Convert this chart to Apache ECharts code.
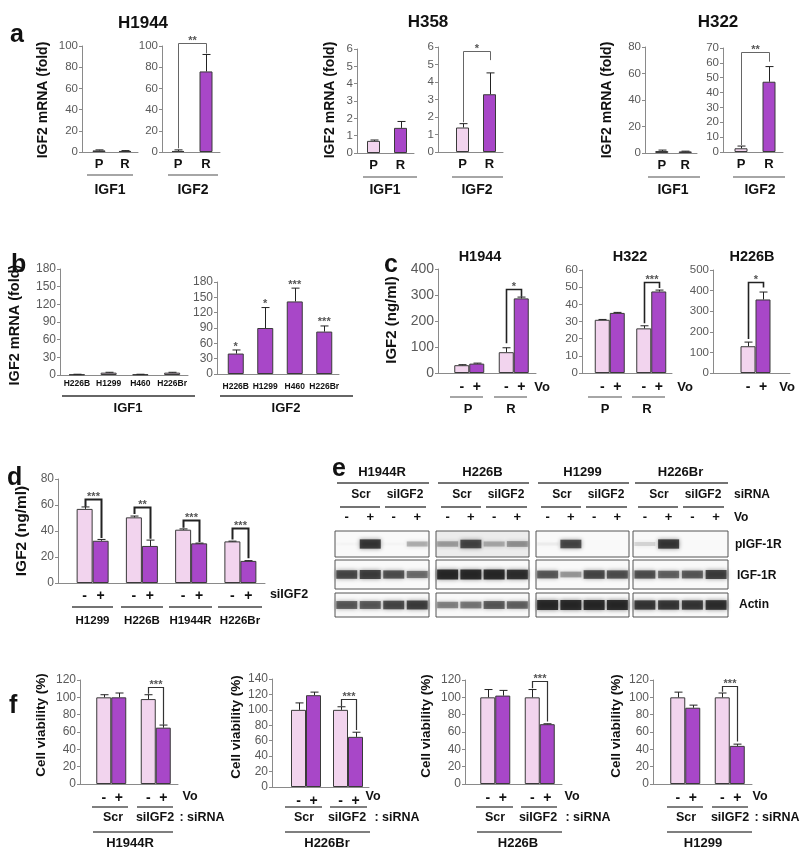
<!DOCTYPE html>
<html><head><meta charset="utf-8">
<script src="https://cdn.jsdelivr.net/npm/echarts@6/dist/echarts.min.js"></script>
<style>html,body{margin:0;padding:0;background:#fff}#c{width:800px;height:855px}</style>
</head><body><div id="c"></div>
<script>
// ---------------- DATA ----------------
// panel a : IGF mRNA (fold), P = parental, R = resistant
const aGroups = ['P', 'R'];
const aH1944IGF1 = [1.5, 1.0], aH1944IGF1Err = [2.0, 1.3];
const aH1944IGF2 = [1.0, 76], aH1944IGF2Err = [2.0, 92];
const aH358IGF1 = [0.7, 1.45], aH358IGF1Err = [0.75, 1.82];
const aH358IGF2 = [1.4, 3.3], aH358IGF2Err = [1.62, 4.52];
const aH322IGF1 = [1.5, 1.2], aH322IGF1Err = [2.2, 1.4];
const aH322IGF2 = [2.5, 47.3], aH322IGF2Err = [4.0, 57.5];
const aSigLabels = ['**', '*', '**'];
const aSigLeft = [3.5, 1.7, 4.7], aSigRight = [93, 5.25, 60.8], aSigTop = [103, 5.77, 67.5];

// panel b
const bLines = ['H226B', 'H1299', 'H460', 'H226Br'];
const bIGF1 = [1, 4, 1, 4], bIGF1Err = [1.3, 4.6, 1.3, 4.6];
const bIGF2 = [40, 90, 142, 83], bIGF2Err = [47, 130, 168, 94];
const bStars = ['*', '*', '***', '***'];

// panel c : IGF2 (ng/ml), Vo - / +
const cGroups = ['P', 'R'];
const cH1944Ctrl = [30, 80], cH1944CtrlErr = [32, 97];
const cH1944Vo = [36, 287], cH1944VoErr = [38, 292];
const cH322Ctrl = [31, 26], cH322CtrlErr = [31.2, 27.5];
const cH322Vo = [35, 47.5], cH322VoErr = [35.3, 48.3];
const cH226BCtrl = [130], cH226BCtrlErr = [150];
const cH226BVo = [357], cH226BVoErr = [393];
const cSigLabels = ['*', '***', '*'];
const cSigLeft = [114, 29, 165], cSigRight = [293, 49.5, 415], cSigTop = [322, 53.2, 443];

// panel d : IGF2 (ng/ml), siIGF2 - / +
const dLines = ['H1299', 'H226B', 'H1944R', 'H226Br'];
const dCtrl = [57, 50.5, 41, 32], dCtrlErr = [58.5, 51.5, 41.6, 32.2];
const dSi = [32.5, 28.5, 30.5, 17], dSiErr = [33.5, 33, 30.7, 17.2];
const dStars = ['***', '**', '***', '***'];
const dSigLeft = [58.7, 53, 42.5, 33.5], dSigRight = [34.6, 34, 31.5, 19], dSigTop = [65, 58.5, 48.5, 42];

// panel e : western blot band intensities (0..1), lanes Scr-,Scr+,si-,si+
const eLines = ['H1944R', 'H226B', 'H1299', 'H226Br'];
const eLanes = ['-', '+', '-', '+'];
const eRows = ['pIGF-1R', 'IGF-1R', 'Actin'];
const ePIGF1R = [[0.02, 0.9, 0.02, 0.3], [0.35, 0.8, 0.3, 0.4], [0.05, 0.8, 0, 0], [0.15, 0.9, 0, 0]];
const eIGF1R = [[0.8, 0.85, 0.75, 0.6], [1, 1, 1, 0.95], [0.7, 0.4, 0.8, 0.75], [0.75, 0.65, 0.7, 0.85]];
const eActin = [[0.7, 0.7, 0.8, 0.85], [0.5, 0.55, 0.7, 0.65], [1, 1, 1, 1], [0.9, 0.9, 0.9, 0.95]];

// panel f : Cell viability (%)
const fGroups = ['Scr', 'siIGF2'];
const fLines = ['H1944R', 'H226Br', 'H226B', 'H1299'];
const fH1944RCtrl = [100, 98], fH1944RCtrlErr = [103, 103], fH1944RVo = [100, 65], fH1944RVoErr = [105, 68];
const fH226BrCtrl = [100, 100], fH226BrCtrlErr = [109, 104], fH226BrVo = [119, 65], fH226BrVoErr = [123, 71];
const fH226BCtrl = [100, 100], fH226BCtrlErr = [109, 109], fH226BVo = [102, 69], fH226BVoErr = [108, 69.5];
const fH1299Ctrl = [100, 100], fH1299CtrlErr = [106, 105], fH1299Vo = [88, 44], fH1299VoErr = [91, 46];
const fSigLabels = ['***', '***', '***', '***'];
const fSigLeft = [104, 105, 110.5, 106.5], fSigRight = [68.5, 74, 72, 49], fSigTop = [111.6, 114, 118.5, 113];

// ---------------- STYLE / BUILD ----------------
const LIGHT = '#f2d4ee', DARK = '#a847c8', EDGE = '#3a3a3a', AXIS = '#8a8a8a', TICKC = '#5a5a5a';
const FONT = '"Liberation Sans", Arial, Helvetica, sans-serif';

const option = { animation: false, backgroundColor: '#fff', grid: [], xAxis: [], yAxis: [], series: [], graphic: [] };

function gLine(x1, y1, x2, y2, color, w) {
  option.graphic.push({ type: 'line', silent: true, shape: { x1, y1, x2, y2 }, style: { stroke: color, lineWidth: w } });
}
function gText(x, y, s, size, o) {
  o = o || {};
  option.graphic.push({ type: 'text', silent: true, x, y, rotation: o.rot || 0,
    style: { text: s, fill: o.color || '#111', fontSize: size, fontWeight: o.weight || 'bold',
      fontFamily: FONT, align: o.align || 'center', verticalAlign: o.va || 'middle' } });
}

function addBarChart(c) {
  const gi = option.grid.length;
  option.grid.push({ left: c.gl, top: c.top, width: c.gr - c.gl, height: c.bottom - c.top, containLabel: false, outerBoundsMode: 'none' });
  option.xAxis.push({ type: 'category', gridIndex: gi, data: c.cats, boundaryGap: true,
    axisLine: { show: true, onZero: false, lineStyle: { color: AXIS, width: 1 } },
    axisTick: { show: false }, splitLine: { show: false },
    axisLabel: Object.assign({ show: true, interval: 0, color: '#111', fontWeight: 'bold', fontFamily: FONT, hideOverlap: false }, c.xLabel) });
  option.yAxis.push({ type: 'value', gridIndex: gi, min: 0, max: c.max, interval: c.interval, offset: c.gl - c.axisX,
    axisLine: { show: true, lineStyle: { color: AXIS, width: 1 } },
    axisTick: { show: true, inside: false, length: 3, lineStyle: { color: AXIS } },
    splitLine: { show: false },
    axisLabel: { color: TICKC, fontSize: c.tickSize, fontFamily: FONT, margin: 4, showMaxLabel: true, showMinLabel: true } });
  if (c.gl - c.axisX > 0.5) gLine(c.axisX, c.bottom + 0.5, c.gl, c.bottom + 0.5, AXIS, 1);
  const n = c.series.length;
  const errData = [], errLabels = [];
  c.series.forEach((s, k) => {
    const off = n === 2 ? (k === 0 ? -c.bw / 2 : c.bw / 2) : 0;
    option.series.push({ type: 'bar', xAxisIndex: gi, yAxisIndex: gi, barWidth: c.bw, barGap: '0%', silent: true,
      data: s.data.map((v, i) => ({ value: v, itemStyle: { color: s.colors ? s.colors[i] : s.color } })),
      itemStyle: { borderColor: EDGE, borderWidth: 1 } });
    if (s.err) s.data.forEach((v, i) => { errData.push([i, v, s.err[i], off]); errLabels.push(s.stars ? s.stars[i] : ''); });
  });
  if (errData.length) {
    option.series.push({ type: 'custom', xAxisIndex: gi, yAxisIndex: gi, clip: false, silent: true, z: 4, data: errData,
      renderItem: (p, api) => {
        const cat = api.value(0), v = api.value(1), e = api.value(2), off = api.value(3);
        const a = api.coord([cat, v]), b = api.coord([cat, e]);
        const x = Math.round(a[0] + off) + 0.5;
        const ch = [];
        if (e > v) {
          ch.push({ type: 'line', shape: { x1: x, y1: a[1], x2: x, y2: b[1] }, style: { stroke: '#222', lineWidth: 1 } });
          ch.push({ type: 'line', shape: { x1: x - 4, y1: b[1], x2: x + 4, y2: b[1] }, style: { stroke: '#222', lineWidth: 1 } });
        }
        const lab = errLabels[p.dataIndex];
        if (lab) ch.push({ type: 'text', x: a[0] + off, y: b[1] + 2, style: { text: lab, fill: '#555', fontSize: 11, fontWeight: 'bold', fontFamily: FONT, align: 'center', verticalAlign: 'bottom' } });
        return { type: 'group', children: ch };
      } });
  }
  if (c.brackets) {
    const bs = c.brackets;
    option.series.push({ type: 'custom', xAxisIndex: gi, yAxisIndex: gi, clip: false, silent: true, z: 5,
      data: bs.map(b => [b.c1, b.yTop, b.c2, b.yL, b.yR, b.o1, b.o2]),
      renderItem: (p, api) => {
        const c1 = api.value(0), top = api.value(1), c2 = api.value(2), yL = api.value(3), yR = api.value(4), o1 = api.value(5), o2 = api.value(6);
        const pL = api.coord([c1, yL]), pR = api.coord([c2, yR]), pT = api.coord([c1, top]);
        const xl = Math.round(pL[0] + o1) + 0.5, xr = Math.round(pR[0] + o2) + 0.5, yt = Math.round(pT[1]) + 0.5;
        return { type: 'group', children: [
          { type: 'polyline', shape: { points: [[xl, pL[1]], [xl, yt], [xr, yt], [xr, pR[1]]] }, style: { stroke: c.bStroke, lineWidth: c.bWidth, fill: 'none' } },
          { type: 'text', x: (xl + xr) / 2, y: yt + 3, style: { text: bs[p.dataIndex].label, fill: '#555', fontSize: 11, fontWeight: 'bold', fontFamily: FONT, align: 'center', verticalAlign: 'bottom' } }
        ] };
      } });
  }
  return gi;
}

// ---- panel a ----
const aLab = { fontSize: 13, margin: 6 };
function aPair(axL, glL, grL, topL, botL, axR, glR, grR, topR, botR, max1, int1, max2, int2, d1, e1, d2, e2, si) {
  addBarChart({ axisX: axL, gl: glL, gr: grL, top: topL, bottom: botL, max: max1, interval: int1, tickSize: 11.5,
    cats: aGroups, xLabel: aLab, bw: 13, series: [{ data: d1, err: e1, colors: [LIGHT, DARK] }] });
  addBarChart({ axisX: axR, gl: glR, gr: grR, top: topR, bottom: botR, max: max2, interval: int2, tickSize: 11.5,
    cats: aGroups, xLabel: aLab, bw: 13, series: [{ data: d2, err: e2, colors: [LIGHT, DARK] }],
    brackets: [{ c1: 0, o1: 0, c2: 1, o2: 0, yL: aSigLeft[si], yR: aSigRight[si], yTop: aSigTop[si], label: aSigLabels[si] }],
    bStroke: '#666', bWidth: 1 });
}
aPair(82, 86, 138, 46, 152, 162, 164, 220, 46, 152, 100, 20, 100, 20, aH1944IGF1, aH1944IGF1Err, aH1944IGF2, aH1944IGF2Err, 0);
aPair(357, 360, 414, 49, 153, 438, 449, 503, 47, 152, 6, 1, 6, 1, aH358IGF1, aH358IGF1Err, aH358IGF2, aH358IGF2Err, 1);
aPair(645, 650, 697, 47, 153, 723, 727, 783, 48, 152, 80, 20, 70, 10, aH322IGF1, aH322IGF1Err, aH322IGF2, aH322IGF2Err, 2);

// ---- panel b ----
const bLab = { fontSize: 8.5, margin: 4 };
addBarChart({ axisX: 60, gl: 61, gr: 188, top: 269, bottom: 375, max: 180, interval: 30, tickSize: 12,
  cats: bLines, xLabel: bLab, bw: 16, series: [{ data: bIGF1, err: bIGF1Err, color: LIGHT }] });
addBarChart({ axisX: 217, gl: 221, gr: 339, top: 282, bottom: 374, max: 180, interval: 30, tickSize: 12,
  cats: bLines, xLabel: Object.assign({}, bLab, { margin: 8 }), bw: 16, series: [{ data: bIGF2, err: bIGF2Err, color: DARK, stars: bStars }] });

// ---- panel c ----
function pmLabel(bw, size, margin) {
  return { margin, formatter: () => '{a|-}{a|+}', rich: { a: { width: bw, align: 'center', fontWeight: 'bold', fontSize: size, fontFamily: FONT, color: '#111' } } };
}
function cChart(axisX, gl, gr, top, bottom, max, interval, tick, cats, ctrl, ctrlE, vo, voE, si) {
  addBarChart({ axisX, gl, gr, top, bottom, max, interval, tickSize: tick, cats, xLabel: pmLabel(15, 14, 7), bw: 15,
    series: [{ data: ctrl, err: ctrlE, color: LIGHT }, { data: vo, err: voE, color: DARK }],
    brackets: [{ c1: cats.length - 1, o1: -7.5, c2: cats.length - 1, o2: 7.5, yL: cSigLeft[si], yR: cSigRight[si], yTop: cSigTop[si], label: cSigLabels[si] }],
    bStroke: '#222', bWidth: 1.6 });
}
cChart(438, 447, 536, 269, 373, 400, 100, 14, cGroups, cH1944Ctrl, cH1944CtrlErr, cH1944Vo, cH1944VoErr, 0);
cChart(582, 589, 672, 270, 373, 60, 10, 11.5, cGroups, cH322Ctrl, cH322CtrlErr, cH322Vo, cH322VoErr, 1);
cChart(713, 721, 790, 270, 373, 500, 100, 11.5, ['H226B'], cH226BCtrl, cH226BCtrlErr, cH226BVo, cH226BVoErr, 2);

// ---- panel d ----
addBarChart({ axisX: 58, gl: 68, gr: 265, top: 479, bottom: 583, max: 80, interval: 20, tickSize: 12,
  cats: dLines, xLabel: pmLabel(16, 14, 6), bw: 16,
  series: [{ data: dCtrl, err: dCtrlErr, color: LIGHT }, { data: dSi, err: dSiErr, color: DARK }],
  brackets: dLines.map((_, i) => ({ c1: i, o1: -8, c2: i, o2: 8, yL: dSigLeft[i], yR: dSigRight[i], yTop: dSigTop[i], label: dStars[i] })),
  bStroke: '#222', bWidth: 2 });

// ---- panel f ----
function fChart(axisX, gl, gr, top, bottom, max, ctrl, ctrlE, vo, voE, si) {
  addBarChart({ axisX, gl, gr, top, bottom, max, interval: 20, tickSize: 12, cats: fGroups, xLabel: pmLabel(15, 14, 7), bw: 15,
    series: [{ data: ctrl, err: ctrlE, color: LIGHT }, { data: vo, err: voE, color: DARK }],
    brackets: [{ c1: 1, o1: -7.5, c2: 1, o2: 7.5, yL: fSigLeft[si], yR: fSigRight[si], yTop: fSigTop[si], label: fSigLabels[si] }],
    bStroke: '#333', bWidth: 1.2 });
}
fChart(80, 89, 178, 680, 784, 120, fH1944RCtrl, fH1944RCtrlErr, fH1944RVo, fH1944RVoErr, 0);
fChart(272, 285, 369, 679, 787, 140, fH226BrCtrl, fH226BrCtrlErr, fH226BrVo, fH226BrVoErr, 1);
fChart(465, 473, 562, 680, 784, 120, fH226BCtrl, fH226BCtrlErr, fH226BVo, fH226BVoErr, 2);
fChart(653, 663, 752, 680, 784, 120, fH1299Ctrl, fH1299CtrlErr, fH1299Vo, fH1299VoErr, 3);

// ---- panel e : blots ----
const eBoxX = [[335, 429], [436, 529], [536, 629], [633, 728]];
const eRowY = [[531, 557], [560, 589], [593, 617]];
const eData = [ePIGF1R, eIGF1R, eActin];
eLines.forEach((ln, j) => {
  eRows.forEach((row, r) => {
    const gi = option.grid.length;
    option.grid.push({ show: true, left: eBoxX[j][0], top: eRowY[r][0], width: eBoxX[j][1] - eBoxX[j][0], height: eRowY[r][1] - eRowY[r][0],
      borderColor: '#555', borderWidth: 1, backgroundColor: (r === 0 && j === 1) ? '#ececec' : '#f9f9f9', containLabel: false, outerBoundsMode: 'none' });
    option.xAxis.push({ type: 'category', gridIndex: gi, data: ['1', '2', '3', '4'], position: 'top', boundaryGap: true,
      axisLine: { show: false }, axisTick: { show: false },
      axisLabel: { show: r === 0, interval: 0, margin: 7, formatter: (v, i) => eLanes[i], color: '#111', fontWeight: 'bold', fontSize: 13, fontFamily: FONT } });
    option.yAxis.push({ type: 'value', gridIndex: gi, min: 0, max: 1, show: false });
    option.series.push({ type: 'scatter', xAxisIndex: gi, yAxisIndex: gi, silent: true, symbol: 'rect',
      data: eData[r][j].map((v, i) => [i, 0.5, v]),
      symbolSize: (val) => [21, 3 + 7 * val[2]],
      itemStyle: { color: (p) => 'rgba(12,12,12,' + p.value[2] + ')', shadowBlur: 4, shadowColor: 'rgba(0,0,0,0.6)' } });
  });
  gText((eBoxX[j][0] + eBoxX[j][1]) / 2, 472, ln, 13);
  gLine(eBoxX[j][0] + 2, 483, eBoxX[j][1], 483, '#444', 1.5);
  gText(eBoxX[j][0] + 26, 495, 'Scr', 12);
  gText(eBoxX[j][0] + 70, 495, 'siIGF2', 12);
  gLine(eBoxX[j][0] + 5, 507, eBoxX[j][0] + 45, 507, '#444', 1.5);
  gLine(eBoxX[j][0] + 50, 507, eBoxX[j][0] + 91, 507, '#444', 1.5);
});
gText(734, 495, 'siRNA', 12, { align: 'left' });
gText(734, 518, 'Vo', 12, { align: 'left' });
gText(735, 545, eRows[0], 12, { align: 'left' });
gText(737, 576, eRows[1], 12, { align: 'left' });
gText(739, 605, eRows[2], 12, { align: 'left' });

// ---- decorations / text ----
// panel letters
gText(10, 23, 'a', 25, { align: 'left', va: 'alphabetic' });
gText(11, 253, 'b', 25, { align: 'left', va: 'alphabetic' });
gText(384, 253, 'c', 25, { align: 'left', va: 'alphabetic' });
gText(7, 466, 'd', 25, { align: 'left', va: 'alphabetic' });
gText(332, 457, 'e', 25, { align: 'left', va: 'alphabetic' });
gText(9, 694, 'f', 25, { align: 'left', va: 'alphabetic' });
// titles
gText(143, 23, 'H1944', 17); gText(428, 22, 'H358', 17); gText(718, 22, 'H322', 17);
gText(480, 257, 'H1944', 14.5); gText(630, 257, 'H322', 14.5); gText(752, 257, 'H226B', 14.5);
// y names
const R90 = Math.PI / 2;
gText(43, 100, 'IGF2 mRNA (fold)', 14, { rot: R90 });
gText(330, 100, 'IGF2 mRNA (fold)', 14, { rot: R90 });
gText(607, 100, 'IGF2 mRNA (fold)', 14, { rot: R90 });
gText(15, 325, 'IGF2 mRNA (fold)', 14.5, { rot: R90 });
gText(392, 320, 'IGF2 (ng/ml)', 15, { rot: R90 });
gText(22, 531, 'IGF2 (ng/ml)', 15.5, { rot: R90 });
gText(41, 725, 'Cell viability (%)', 13.5, { rot: R90 });
gText(236, 727, 'Cell viability (%)', 13.5, { rot: R90 });
gText(426, 726, 'Cell viability (%)', 13.5, { rot: R90 });
gText(616, 726, 'Cell viability (%)', 13.5, { rot: R90 });
// panel a group lines
[[87, 133, 175, 110, 'IGF1'], [168, 218, 175, 193, 'IGF2'], [363, 417, 177, 385, 'IGF1'], [452, 503, 177, 477, 'IGF2'],
 [648, 700, 177, 673, 'IGF1'], [733, 785, 177, 760, 'IGF2']].forEach(g => { gLine(g[0], g[2], g[1], g[2], '#888', 1.5); gText(g[3], 190, g[4], 14); });
// panel b
gLine(62, 396, 195, 396, '#333', 1.5); gText(128, 408, 'IGF1', 13);
gLine(220, 396, 353, 396, '#333', 1.5); gText(286, 408, 'IGF2', 13);
// panel c
[[450, 483, 468, 'P'], [494, 527, 511, 'R'], [588, 622, 605, 'P'], [632, 665, 647, 'R']].forEach(g => { gLine(g[0], 397, g[1], 397, '#888', 1.5); gText(g[2], 409, g[3], 13); });
gText(542, 387, 'Vo', 13); gText(685, 387, 'Vo', 13); gText(787, 387, 'Vo', 13);
// panel d
gText(289, 595, 'siIGF2', 12.5);
[[72, 113], [121, 163], [169, 212], [218, 262]].forEach((g, i) => { gLine(g[0], 607, g[1], 607, '#444', 1.5); gText((g[0] + g[1]) / 2, 621, dLines[i], 11.5); });
// panel f
const fDeco = [
  { vo: 190, s1: [92, 128], s2: [137, 173], t1: 113, t2: 155, tr: 202, low: [93, 173], name: 130 },
  { vo: 373, s1: [285, 322], s2: [330, 367], t1: 304, t2: 347, tr: 397, low: [285, 370], name: 327 },
  { vo: 572, s1: [476, 513], s2: [521, 557], t1: 495, t2: 538, tr: 588, low: [477, 562], name: 518 },
  { vo: 760, s1: [667, 703], s2: [712, 748], t1: 686, t2: 730, tr: 777, low: [667, 752], name: 703 }];
fDeco.forEach((g, i) => {
  gText(g.vo, 797, 'Vo', 12.5);
  gLine(g.s1[0], 807, g.s1[1], 807, '#555', 1.5); gLine(g.s2[0], 807, g.s2[1], 807, '#555', 1.5);
  gText(g.t1, 818, fGroups[0], 12.5); gText(g.t2, 818, fGroups[1], 12.5); gText(g.tr, 818, ': siRNA', 12.5);
  gLine(g.low[0], 832, g.low[1], 832, '#555', 1.5); gText(g.name, 843, fLines[i], 13);
});

const chart = echarts.init(document.getElementById('c'), null, { renderer: 'canvas', width: 800, height: 855 });
chart.setOption(option);
</script>
</body></html>
